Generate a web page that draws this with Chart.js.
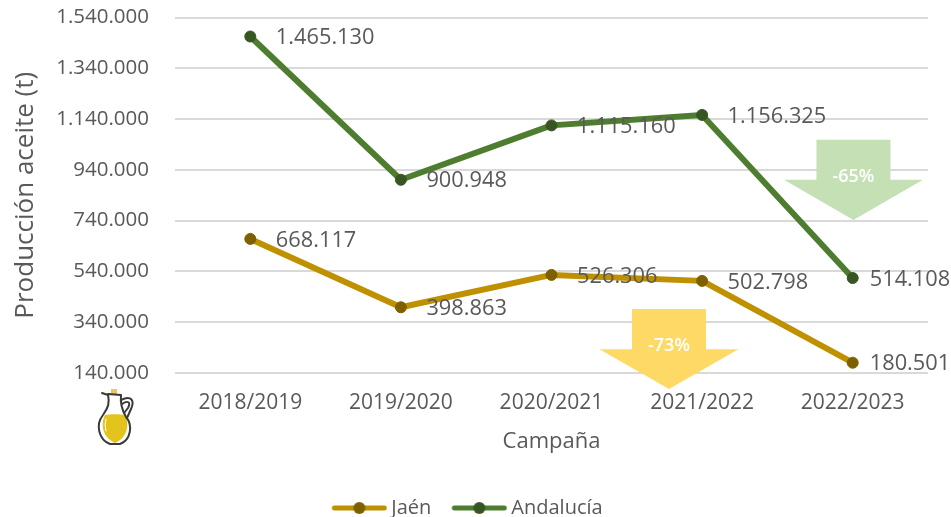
<!DOCTYPE html>
<html lang="es"><head><meta charset="utf-8">
<style>html,body{margin:0;padding:0;background:#fff}#wrap{width:951px;height:517px;position:relative}</style>
<script src="https://cdn.jsdelivr.net/npm/chart.js@4"></script>
</head><body><div id="wrap"><canvas id="c" width="951" height="517"></canvas></div>
<script>
const categories = ['2018/2019','2019/2020','2020/2021','2021/2022','2022/2023'];
const jaen = [668117,398863,526306,502798,180501];
const andalucia = [1465130,900948,1115160,1156325,514108];
const yTicks = [140000,340000,540000,740000,940000,1140000,1340000,1540000];
const seriesNames = ['Jaén','Andalucía'];
const dropLabels = ['-65%','-73%'];

const FONT = '"Open Sans", sans-serif';
const GREY = '#595959';
const fmt = v => String(v).replace(/\B(?=(\d{3})+(?!\d))/g,'.');

function legendIcon(line, dot){
  const k = document.createElement('canvas'); k.width = 68; k.height = 16;
  const g = k.getContext('2d');
  g.strokeStyle = line; g.lineWidth = 5; g.lineCap = 'round';
  g.beginPath(); g.moveTo(15,8); g.lineTo(65,8); g.stroke();
  g.fillStyle = dot; g.beginPath(); g.arc(40,8,6,0,Math.PI*2); g.fill();
  return k;
}
const colors = [{line:'#bf9000',dot:'#7f6000'},{line:'#4e7d30',dot:'#375623'}];

const labelPlugin = {
  id:'labels',
  afterDatasetsDraw(chart){
    const {ctx, scales:{x,y}} = chart;
    const arrows = [
      {idx:4.005, top:1059000, neck:901000, tip:743000, fill:'#c5e0b4', text:dropLabels[0]},
      {idx:2.78,  top:392000,  neck:234000, tip:77000,  fill:'#ffd966', text:dropLabels[1]}
    ];
    arrows.forEach(a=>{
      const cx=x.getPixelForValue(a.idx), t=y.getPixelForValue(a.top), n=y.getPixelForValue(a.neck), p=y.getPixelForValue(a.tip);
      ctx.save(); ctx.fillStyle=a.fill; ctx.beginPath();
      ctx.moveTo(cx-37,t); ctx.lineTo(cx+37,t); ctx.lineTo(cx+37,n); ctx.lineTo(cx+69.5,n);
      ctx.lineTo(cx,p); ctx.lineTo(cx-69.5,n); ctx.lineTo(cx-37,n); ctx.closePath(); ctx.fill();
      ctx.fillStyle='#fff'; ctx.font='600 18px '+FONT; ctx.textAlign='center'; ctx.textBaseline='middle';
      ctx.fillText(a.text,cx,n-3); ctx.restore();
    });
    ctx.save(); ctx.font='21.8px '+FONT; ctx.fillStyle=GREY; ctx.textBaseline='middle'; ctx.textAlign='left';
    chart.data.datasets.forEach((ds,i)=>{
      chart.getDatasetMeta(i).data.forEach((pt,j)=>{
        const off = j===ds.data.length-1 ? 17 : 25.5;
        ctx.fillText(fmt(ds.data[j]), pt.x+off, pt.y+1.5);
      });
    });
    ctx.restore();
    drawJar(ctx);
  }
};

function drawJar(ctx){
  ctx.save(); ctx.translate(98,390); ctx.lineJoin='round'; ctx.lineCap='round';
  ctx.fillStyle='#eec36f'; ctx.fillRect(13,-1,6,5);
  ctx.fillStyle='#e2c41c'; ctx.beginPath();
  ctx.moveTo(7,25); ctx.bezierCurveTo(12,24,22,24,27,25);
  ctx.bezierCurveTo(31,32,31,47,17,53); ctx.bezierCurveTo(3,47,3,32,7,25); ctx.fill();
  ctx.strokeStyle='#3a3a3a'; ctx.lineWidth=2; ctx.beginPath();
  ctx.moveTo(4,3); ctx.lineTo(10,5); ctx.bezierCurveTo(12,13,10,18,5,25);
  ctx.bezierCurveTo(-3,35,1,50,12,54); ctx.lineTo(22,54);
  ctx.bezierCurveTo(33,50,35,35,28,27); ctx.bezierCurveTo(24,20,22,14,23,5);
  ctx.lineTo(10,4); ctx.stroke();
  ctx.beginPath(); ctx.moveTo(23,10); ctx.bezierCurveTo(33,5,37,10,33,19);
  ctx.lineTo(29,28); ctx.moveTo(24,14); ctx.bezierCurveTo(30,10,33,12,30,18); ctx.lineTo(26,23); ctx.stroke();
  ctx.strokeStyle='#fff'; ctx.lineWidth=1; ctx.beginPath(); ctx.moveTo(8,29); ctx.quadraticCurveTo(6,35,8,41); ctx.stroke();
  ctx.restore();
}

Chart.defaults.font.family = FONT;
const common = {borderWidth:6,pointRadius:5.5,pointBorderWidth:1,tension:0,borderCapStyle:'round',borderJoinStyle:'round'};
new Chart(document.getElementById('c'),{
  type:'line',
  data:{labels:categories,datasets:[
    {label:seriesNames[0],data:jaen,borderColor:colors[0].line,backgroundColor:colors[0].dot,pointBackgroundColor:colors[0].dot,pointBorderColor:colors[0].dot,...common},
    {label:seriesNames[1],data:andalucia,borderColor:colors[1].line,backgroundColor:colors[1].dot,pointBackgroundColor:colors[1].dot,pointBorderColor:colors[1].dot,...common}
  ]},
  options:{
    responsive:false,animation:false,
    layout:{padding:{top:17.5,right:23,bottom:-11,left:0}},
    plugins:{
      tooltip:{enabled:false},
      legend:{
        position:'bottom',
        labels:{
          usePointStyle:true,pointStyleWidth:56,padding:14,color:GREY,font:{size:20},
          generateLabels:c=>c.data.datasets.map((d,i)=>({text:d.label,datasetIndex:i,fontColor:GREY,lineWidth:0,hidden:false,pointStyle:legendIcon(colors[i].line,colors[i].dot)}))
        }
      }
    },
    scales:{
      x:{
        offset:true,
        afterFit:s=>{s.height=111;},
        grid:{display:false},border:{display:false},
        ticks:{color:GREY,font:{size:21},padding:9,maxRotation:0},
        title:{display:true,text:'Campaña',color:GREY,font:{size:22},padding:{top:6,bottom:29}}
      },
      y:{
        min:yTicks[0],max:yTicks[yTicks.length-1],
        afterFit:s=>{s.width=175;s.paddingTop=0;s.paddingBottom=0;},
        afterBuildTicks:s=>{s.ticks=yTicks.map(v=>({value:v}));},
        grid:{color:'#d9d9d9',lineWidth:2,drawTicks:false},border:{display:false},
        ticks:{color:GREY,font:{size:20.5},padding:26,callback:v=>fmt(v)},
        title:{display:true,text:'Producción aceite (t)',color:GREY,font:{size:26},padding:{top:10,bottom:18}}
      }
    }
  },
  plugins:[labelPlugin]
});
</script></body></html>
